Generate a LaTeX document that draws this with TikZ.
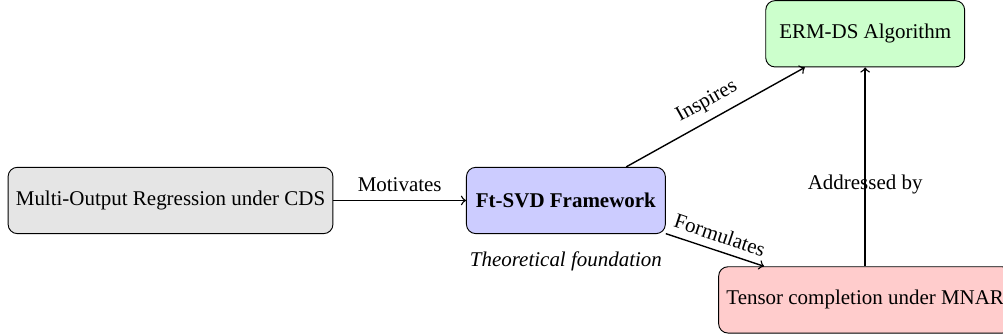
\documentclass[tikz,border=0pt]{standalone}
\usepackage{fontspec}
\setmainfont{Liberation Serif}
\usetikzlibrary{positioning}

\begin{document}
\begin{tikzpicture}[
    every node/.style={font=\small},
    box/.style={draw, rounded corners, minimum width=3cm, minimum height=1cm, align=center},
    link/.style={->, semithick},
]

% Fixed frame (right box is cut at the edge)
\useasboundingbox (-2.572,-2.029) rectangle (12.557,3.024);

% Boxes
\node[box, fill=gray!20] (mor) at (0,0) {Multi-Output Regression under CDS};
\node[box, fill=blue!20, right=2cm of mor] (ftsvd) {\textbf{Ft-SVD Framework}};
\node[box, fill=green!20, above right=1.5cm and 1.5cm of ftsvd] (ermds) {ERM-DS Algorithm};
\node[box, fill=red!20, below=3cm of ermds] (tensor) {Tensor completion under MNAR};

% Note under the framework
\node[font=\small\itshape, below=4pt of ftsvd] (theory) {Theoretical foundation};

% Links
\draw[link] (mor) -- node[above] {Motivates} (ftsvd);
\draw[link] (ftsvd) -- node[above, sloped] {Inspires} (ermds);
\draw[link] (ftsvd) -- node[above, sloped] {Formulates} (tensor);
\draw[link] (tensor) -- node[midway, below] {Addressed by} (ermds);

\end{tikzpicture}
\end{document}
